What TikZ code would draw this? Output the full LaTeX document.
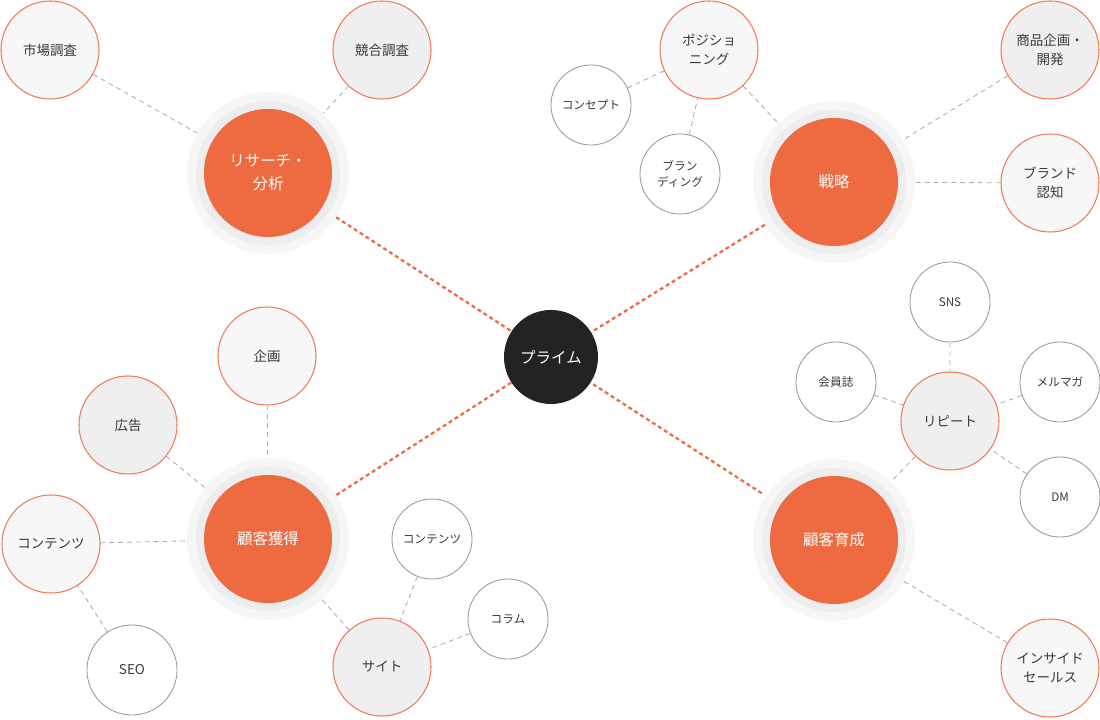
\documentclass[tikz,border=0pt]{standalone}
\usepackage{fontspec}
\setmainfont{Noto Sans CJK JP}
\usepackage{xcolor}
\usepackage{tikz}
\usetikzlibrary{positioning}
\definecolor{brand}{HTML}{EE6B41}
\definecolor{ink}{HTML}{232323}
\definecolor{txt}{HTML}{3A3A3A}
\definecolor{shade}{HTML}{EFEFEF}
\definecolor{paper}{HTML}{F7F7F7}
\definecolor{haloout}{HTML}{F6F6F6}
\definecolor{haloin}{HTML}{EDEDED}
\tikzset{x=0.025cm, y=-0.025cm,
  hub/.style={circle, minimum size=4.05cm, inner sep=0pt, fill=haloout, text=white, align=center,
    font=\fontsize{11}{16.5}\selectfont,
    path picture={\fill[haloin] (path picture bounding box.center) circle (1.8cm);
      \fill[brand] (path picture bounding box.center) circle (1.6cm);}},
  core/.style={circle, minimum size=2.35cm, inner sep=0pt, fill=ink, text=white, font=\fontsize{11}{14}\selectfont},
  topic/.style={circle, minimum size=2.45cm, inner sep=0pt, draw=brand!90, line width=0.75pt, fill=paper,
    text=txt, align=center, font=\fontsize{9.6}{13.5}\selectfont},
  topicg/.style={topic, fill=shade},
  leaf/.style={circle, minimum size=2cm, inner sep=0pt, draw=gray!80, line width=0.6pt, fill=white,
    text=txt, align=center, font=\fontsize{8.3}{12}\selectfont},
  spoke/.style={brand, line width=1.6pt, dash pattern=on 2.8pt off 2.2pt, shorten <=0.12cm, shorten >=0.05cm},
  twig/.style={gray!65, line width=0.6pt, dash pattern=on 3.5pt off 2.8pt}}

\begin{document}
\begin{tikzpicture}
	\useasboundingbox (0,0) rectangle (1100,720);
	% center and the four hubs
	\node[core] (prime) at (551,357) {プライム};
	\node[hub] (research) at (268,173) {リサーチ・\\分析};
	\node[hub] (strategy) at (834,182) {戦略};
	\node[hub] (acquire) at (268,539) {顧客獲得};
	\node[hub] (nurture) at (834,540) {顧客育成};
	% research
	\node[topic] (market) at (50,50) {市場調査};
	\node[topicg] (rival) at (382,50) {競合調査};
	% strategy
	\node[topic] (position) at (709,50) {ポジショ\\ニング};
	\node[topicg] (product) at (1050,50) {商品企画・\\開発};
	\node[topic] (awareness) at (1050,183) {ブランド\\認知};
	\node[leaf] (concept) at (591,105) {コンセプト};
	\node[leaf] (branding) at (680,174) {ブラン\\ディング};
	% nurture
	\node[topicg] (repeat) at (950,421) {リピート};
	\node[topic] (insidesales) at (1050,668) {インサイド\\セールス};
	\node[leaf] (sns) at (950,302) {SNS};
	\node[leaf] (member) at (836,382) {会員誌};
	\node[leaf] (mailmag) at (1060,382) {メルマガ};
	\node[leaf] (dm) at (1060,497) {DM};
	% acquire
	\node[topic] (plan) at (267,356) {企画};
	\node[topicg] (ads) at (128,425) {広告};
	\node[topic] (contents) at (51,544) {コンテンツ};
	\node[leaf, minimum size=2.25cm, font=\fontsize{9.6}{13.5}\selectfont] (seo) at (132,670) {SEO};
	\node[topicg] (site) at (382,667) {サイト};
	\node[leaf] (sitecontents) at (432,539) {コンテンツ};
	\node[leaf] (column) at (508,619) {コラム};
	\draw[spoke]
		(research) -- (prime)
		(strategy) -- (prime)
		(acquire) -- (prime)
		(nurture) -- (prime);
	\draw[twig]
		(market) -- (research)
		(rival) -- (research)
		(position) -- (strategy)
		(concept) -- (position)
		(branding) -- (position)
		(product) -- (strategy)
		(awareness) -- (strategy)
		(repeat) -- (nurture)
		(sns) -- (repeat)
		(member) -- (repeat)
		(mailmag) -- (repeat)
		(dm) -- (repeat)
		(insidesales) -- (nurture)
		(plan) -- (acquire)
		(ads) -- (acquire)
		(contents) -- (acquire)
		(seo) -- (contents)
		(site) -- (acquire)
		(sitecontents) -- (site)
		(column) -- (site);
\end{tikzpicture}
\end{document}
